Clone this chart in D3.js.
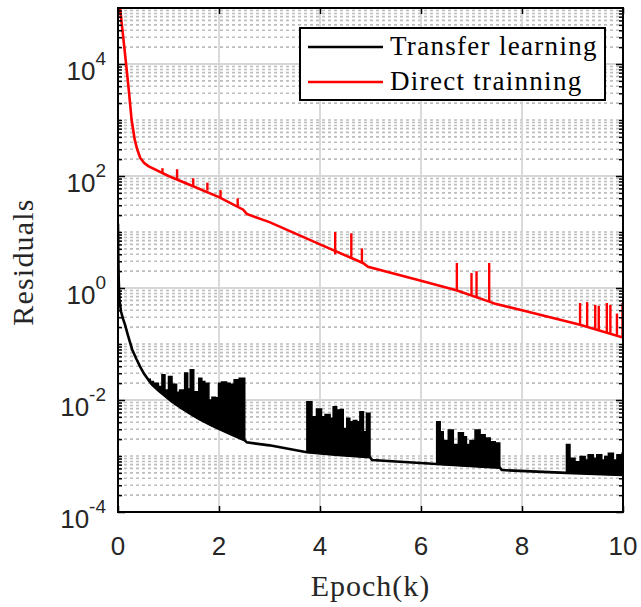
<!DOCTYPE html>
<html>
<head>
<meta charset="utf-8">
<script src="https://cdn.jsdelivr.net/npm/d3@7/dist/d3.min.js"></script>
<style>
  body { margin: 0; background: #fff; }
</style>
</head>
<body>
<div id="chart"></div>
<script>
// [epoch (k), residual]
var tlBase = [
  [0, 14], [0.005, 4], [0.015, 1.3], [0.03, 0.6], [0.06, 0.38], [0.10, 0.28],
  [0.14, 0.22], [0.20, 0.14], [0.28, 0.08], [0.36, 0.055], [0.44, 0.039],
  [0.52, 0.029], [0.60, 0.023], [0.67, 0.019], [0.80, 0.0148], [1.07, 0.0093],
  [1.25, 0.0072], [1.47, 0.0054], [1.62, 0.0045], [1.86, 0.0035], [2.02, 0.0030],
  [2.26, 0.0024], [2.51, 0.0019], [2.55, 0.00175], [3.0, 0.00155], [3.74, 0.00117],
  [4.3, 0.00105], [4.99, 0.00095], [5.03, 0.00085], [6.31, 0.00072], [7.56, 0.00062],
  [7.6, 0.00056], [8.88, 0.0005], [10, 0.00046]
];

// noisy stretches of the transfer learning curve: [epoch, top of the band]
var tlBand1 = [
  [0.60, 0.0235], [0.64, 0.0214], [0.70, 0.0200], [0.80, 0.0174], [0.87, 0.0282],
  [0.93, 0.0151], [1.00, 0.0263], [1.07, 0.0186], [1.10, 0.0191], [1.16, 0.0138],
  [1.22, 0.0151], [1.32, 0.0302], [1.38, 0.0158], [1.43, 0.0347], [1.50, 0.0141],
  [1.60, 0.0245], [1.66, 0.0214], [1.72, 0.0200], [1.80, 0.0100], [1.86, 0.0112],
  [1.93, 0.0110], [1.99, 0.0200], [2.05, 0.0209], [2.15, 0.0200], [2.22, 0.0191],
  [2.30, 0.0229], [2.40, 0.0245], [2.49, 0.0245], [2.51, 0.0245]
];
var tlBand2 = [
  [3.74, 0.0093], [3.84, 0.0050], [3.93, 0.0069], [4.03, 0.0050], [4.10, 0.0055],
  [4.20, 0.0047], [4.26, 0.0076], [4.33, 0.0066], [4.40, 0.0068], [4.46, 0.0031],
  [4.53, 0.0047], [4.59, 0.0041], [4.66, 0.0043], [4.73, 0.0041], [4.79, 0.0062],
  [4.86, 0.0027], [4.92, 0.0058], [4.99, 0.0058]
];
var tlBand3 = [
  [6.31, 0.0041], [6.38, 0.0027], [6.44, 0.0019], [6.54, 0.0029], [6.64, 0.0016],
  [6.74, 0.0026], [6.84, 0.0022], [6.90, 0.0016], [6.97, 0.0019], [7.07, 0.0029],
  [7.17, 0.0024], [7.27, 0.0021], [7.37, 0.0018], [7.47, 0.0017], [7.56, 0.0017]
];
var tlBand4 = [
  [8.88, 0.0016], [8.95, 0.00091], [9.05, 0.00079], [9.15, 0.00098], [9.25, 0.00085],
  [9.31, 0.00105], [9.41, 0.00091], [9.48, 0.00105], [9.58, 0.00085], [9.64, 0.00098],
  [9.71, 0.00112], [9.81, 0.00085], [9.88, 0.00105], [9.98, 0.00112], [10, 0.00112]
];

var dtBase = [
  [0, 3e5], [0.04, 1e5], [0.10, 3.2e4], [0.16, 1e4], [0.22, 3e3], [0.27, 1e3],
  [0.33, 450], [0.38, 300], [0.44, 210], [0.52, 170], [0.60, 150], [1.0, 100],
  [1.5, 65], [2.0, 42], [2.48, 25], [2.55, 21], [3.0, 15], [4.0, 6.0], [4.85, 2.8],
  [4.95, 2.4], [6.0, 1.35], [6.7, 0.91], [7.38, 0.56], [7.45, 0.53], [8.0, 0.40],
  [9.15, 0.22], [10, 0.13]
];

// spikes of the direct training curve: [epoch, low, high]
var dtSpikes = [
  [0.88, 110, 138], [1.17, 88, 132], [1.49, 65, 91], [1.77, 55, 76], [2.03, 41, 56],
  [2.37, 28, 40], [4.30, 4.0, 10], [4.62, 3.4, 9.5], [4.83, 2.9, 5.1],
  [6.71, 0.9, 2.8], [7.00, 0.72, 1.85], [7.10, 0.68, 2.0], [7.35, 0.57, 2.8],
  [9.15, 0.22, 0.54], [9.29, 0.20, 0.56], [9.45, 0.18, 0.50], [9.52, 0.175, 0.48],
  [9.68, 0.16, 0.54], [9.75, 0.155, 0.50], [9.88, 0.145, 0.35], [9.99, 0.13, 0.54]
];

var xTicks = [0, 2, 4, 6, 8, 10];
var yTickExp = [-4, -2, 0, 2, 4];
var seriesNames = ["Transfer learning", "Direct trainning"];
var seriesColors = ["#000000", "#ff0000"];

var margin = {top: 8, right: 18, bottom: 95, left: 118},
    width = 641 - margin.left - margin.right,
    height = 607 - margin.top - margin.bottom;

var svg = d3.select("#chart")
  .append("svg")
    .attr("width", width + margin.left + margin.right)
    .attr("height", height + margin.top + margin.bottom)
  .append("g")
    .attr("transform", "translate(" + margin.left + "," + margin.top + ")");

var x = d3.scaleLinear().domain([0, 10]).range([0, width]);
var y = d3.scaleLog().domain([1e-4, 1e5]).range([height, 0]);

// grid values
var yMajor = yTickExp.map(function(e) { return Math.pow(10, e); });
var yMinor = [];
for (var e = -4; e < 5; e++) {
  for (var m = 1; m < 10; m++) {
    var v = m * Math.pow(10, e);
    if (m === 1 && e % 2 === 0) continue;
    yMinor.push(v);
  }
}

svg.append("defs").append("clipPath").attr("id", "clip")
  .append("rect").attr("width", width).attr("height", height);

var grid = svg.append("g");
grid.selectAll(".minor").data(yMinor).enter().append("line")
  .attr("x1", 0).attr("x2", width)
  .attr("y1", function(d) { return y(d); })
  .attr("y2", function(d) { return y(d); })
  .attr("stroke", "#bdbdbd")
  .attr("stroke-width", 1.6)
  .attr("stroke-dasharray", "3,3");
grid.selectAll(".hmajor").data(yMajor.slice(1)).enter().append("line")
  .attr("x1", 0).attr("x2", width)
  .attr("y1", function(d) { return y(d); })
  .attr("y2", function(d) { return y(d); })
  .attr("stroke", "#d6d6d6")
  .attr("stroke-width", 1.8);
grid.selectAll(".vmajor").data(xTicks.slice(1, -1)).enter().append("line")
  .attr("y1", 0).attr("y2", height)
  .attr("x1", function(d) { return x(d); })
  .attr("x2", function(d) { return x(d); })
  .attr("stroke", "#d6d6d6")
  .attr("stroke-width", 1.8);

var line = d3.line()
  .x(function(d) { return x(d[0]); })
  .y(function(d) { return y(d[1]); });
var stepLine = d3.line()
  .x(function(d) { return x(d[0]); })
  .y(function(d) { return y(d[1]); })
  .curve(d3.curveStepAfter);

var plot = svg.append("g").attr("clip-path", "url(#clip)");

// filled noisy bands, closed along the base curve
[tlBand1, tlBand2, tlBand3, tlBand4].forEach(function(b) {
  var x0 = b[0][0], x1 = b[b.length - 1][0];
  var under = tlBase.filter(function(d) { return d[0] >= x0 && d[0] <= x1; }).reverse();
  plot.append("path")
    .attr("d", stepLine(b) + line(under).replace("M", "L") + "Z")
    .attr("fill", seriesColors[0])
    .attr("stroke", seriesColors[0])
    .attr("stroke-width", 1.5)
    .attr("stroke-linejoin", "miter");
});

plot.append("path")
  .datum(tlBase)
  .attr("d", line)
  .attr("fill", "none")
  .attr("stroke", seriesColors[0])
  .attr("stroke-width", 2.6);

plot.append("path")
  .datum(dtBase)
  .attr("d", line)
  .attr("fill", "none")
  .attr("stroke", seriesColors[1])
  .attr("stroke-width", 2.6);

plot.selectAll(".spike").data(dtSpikes).enter().append("line")
  .attr("x1", function(d) { return x(d[0]); })
  .attr("x2", function(d) { return x(d[0]); })
  .attr("y1", function(d) { return y(d[1]); })
  .attr("y2", function(d) { return y(d[2]); })
  .attr("stroke", seriesColors[1])
  .attr("stroke-width", 2.4);

// axes, ticks pointing inward on all four sides
function styleAxis(g) {
  g.select(".domain").remove();
  g.selectAll(".tick line").attr("stroke", "#000").attr("stroke-width", 1.5);
}
svg.append("g").attr("transform", "translate(0," + height + ")")
  .call(d3.axisBottom(x).tickValues(xTicks).tickSizeInner(-6).tickSizeOuter(0).tickFormat(""))
  .call(styleAxis);
svg.append("g")
  .call(d3.axisTop(x).tickValues(xTicks).tickSizeInner(-6).tickSizeOuter(0).tickFormat(""))
  .call(styleAxis);
svg.append("g")
  .call(d3.axisLeft(y).tickValues(yMajor).tickSizeInner(-7).tickSizeOuter(0).tickFormat(""))
  .call(styleAxis);
svg.append("g")
  .call(d3.axisLeft(y).tickValues(yMinor).tickSizeInner(-4).tickSizeOuter(0).tickFormat(""))
  .call(styleAxis);
svg.append("g").attr("transform", "translate(" + width + ",0)")
  .call(d3.axisRight(y).tickValues(yMajor).tickSizeInner(-7).tickSizeOuter(0).tickFormat(""))
  .call(styleAxis);
svg.append("g").attr("transform", "translate(" + width + ",0)")
  .call(d3.axisRight(y).tickValues(yMinor).tickSizeInner(-4).tickSizeOuter(0).tickFormat(""))
  .call(styleAxis);

svg.append("rect")
  .attr("width", width).attr("height", height)
  .attr("fill", "none")
  .attr("stroke", "#000")
  .attr("stroke-width", 2);

var sans = "'Liberation Sans', Arial, Helvetica, sans-serif";
var serif = "'Liberation Serif', 'Times New Roman', serif";

svg.selectAll(".xlab").data(xTicks).enter().append("text")
  .attr("x", function(d) { return x(d); })
  .attr("y", height + 43)
  .attr("text-anchor", "middle")
  .attr("font-family", sans)
  .attr("font-size", 26)
  .attr("fill", "#262626")
  .text(function(d) { return d; });

svg.selectAll(".ylab").data(yTickExp).enter().append("text")
  .attr("x", -12)
  .attr("y", function(d) { return y(Math.pow(10, d)) + 16; })
  .attr("text-anchor", "end")
  .attr("font-family", sans)
  .attr("font-size", 26)
  .attr("fill", "#262626")
  .each(function(d) {
    var t = d3.select(this);
    t.append("tspan").text("10");
    t.append("tspan").attr("dy", -15).attr("font-size", 19).text(d < 0 ? "-" + (-d) : d);
  });

svg.append("text")
  .attr("x", width / 2)
  .attr("y", height + 84)
  .attr("text-anchor", "middle")
  .attr("font-family", serif)
  .attr("font-size", 30)
  .attr("letter-spacing", 1)
  .attr("fill", "#262626")
  .text("Epoch(k)");

svg.append("text")
  .attr("transform", "translate(" + (33 - margin.left) + "," + (height / 2 + 2) + ") rotate(-90)")
  .attr("text-anchor", "middle")
  .attr("font-family", serif)
  .attr("font-size", 30)
  .attr("letter-spacing", 1.2)
  .attr("fill", "#262626")
  .text("Residuals");

// legend
var legend = svg.append("g").attr("transform", "translate(" + (300 - margin.left) + "," + (28 - margin.top) + ")");
legend.append("rect")
  .attr("width", 305).attr("height", 72)
  .attr("fill", "#fff")
  .attr("stroke", "#000")
  .attr("stroke-width", 2);
seriesNames.forEach(function(name, i) {
  var yy = 19 + i * 35;
  legend.append("line")
    .attr("x1", 8).attr("x2", 83)
    .attr("y1", yy).attr("y2", yy)
    .attr("stroke", seriesColors[i])
    .attr("stroke-width", 2.6);
  legend.append("text")
    .attr("x", 90).attr("y", yy + 8)
    .attr("font-family", serif)
    .attr("font-size", 27)
    .attr("letter-spacing", 1.3)
    .attr("fill", "#000")
    .text(name);
});
</script>
</body>
</html>
